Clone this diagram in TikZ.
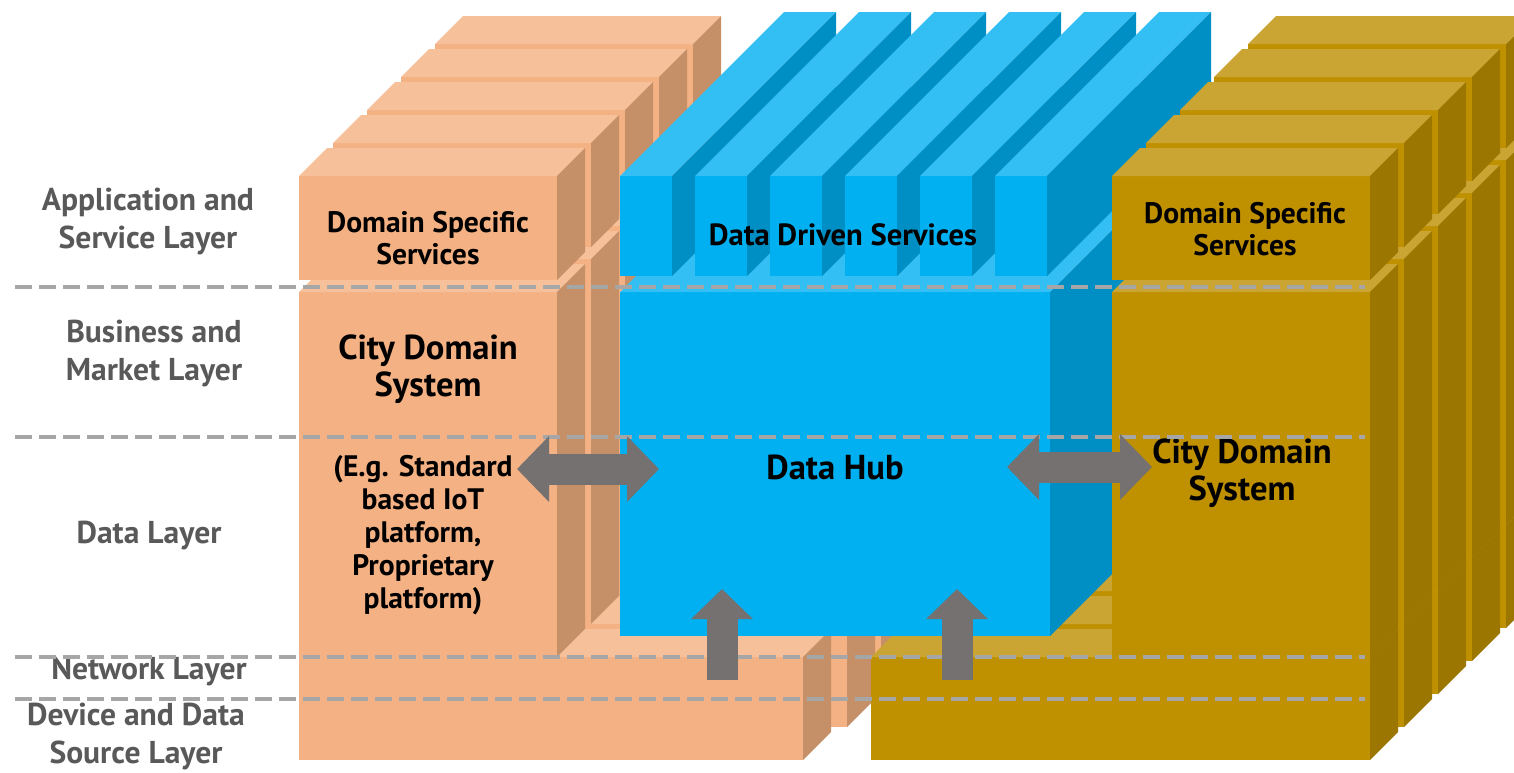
\documentclass[tikz,border=0pt]{standalone}
\usepackage{fontspec}
\setmainfont{PT Sans}
\usetikzlibrary{arrows.meta,calc}
\definecolor{orfront}{RGB}{244,177,131}
\definecolor{ortop}{RGB}{246,193,154}
\definecolor{orside}{RGB}{197,143,103}
\definecolor{blfront}{RGB}{0,176,240}
\definecolor{bltop}{RGB}{51,191,243}
\definecolor{blside}{RGB}{0,143,197}
\definecolor{gdfront}{RGB}{191,144,0}
\definecolor{gdtop}{RGB}{202,165,52}
\definecolor{gdside}{RGB}{155,118,0}
\definecolor{arrowgray}{RGB}{118,113,113}
\definecolor{dashgray}{RGB}{166,166,166}
\definecolor{labelgray}{RGB}{89,89,89}
% front face x0,y0,x1,y1 -- depth -- colour set (or, bl, gd)
\newcommand{\cuboid}[6]{%
  \fill[#6front] (#1,#2) rectangle (#3,#4);
  \fill[#6top] (#1,#2) -- (#3,#2) -- ({#3+#5},{#2-#5}) -- ({#1+#5},{#2-#5}) -- cycle;
  \fill[#6side] (#3,#2) -- ({#3+#5},{#2-#5}) -- ({#3+#5},{#4-#5}) -- (#3,#4) -- cycle;
}
\tikzset{
  boxtext/.style={font=\bfseries\fontsize{14.8}{16}\selectfont, align=center, text=black},
  bigtext/.style={font=\bfseries\fontsize{17.3}{18.5}\selectfont, align=center, text=black},
  layerlabel/.style={font=\bfseries\fontsize{15.8}{19}\selectfont, align=center, text=labelgray},
  layerline/.style={draw=dashgray, line width=2pt, dash pattern=on 8.5pt off 3.5pt},
  linkarrow/.style={draw=arrowgray, line width=15.5pt, {Triangle[length=16pt,width=32pt]}-{Triangle[length=16pt,width=32pt]}},
  feedarrow/.style={draw=arrowgray, line width=15.5pt, -{Triangle[length=15pt,width=30pt]}}
}

\begin{document}
\begin{tikzpicture}[x=0.5pt, y=-0.5pt]
  \useasboundingbox (0,0) rectangle (1514,772);

  % left domain stack
  \cuboid{435}{160}{693}{628}{28}{or}
  \cuboid{435}{44}{693}{148}{28}{or}
  \cuboid{693}{525}{949}{628}{28}{or}
  \cuboid{401}{193}{659}{661}{28}{or}
  \cuboid{401}{77}{659}{181}{28}{or}
  \cuboid{659}{558}{915}{661}{28}{or}
  \cuboid{367}{226}{625}{694}{28}{or}
  \cuboid{367}{110}{625}{214}{28}{or}
  \cuboid{625}{591}{881}{694}{28}{or}
  \cuboid{333}{259}{591}{727}{28}{or}
  \cuboid{333}{143}{591}{247}{28}{or}
  \cuboid{591}{624}{847}{727}{28}{or}
  \cuboid{299}{292}{557}{760}{28}{or}
  \cuboid{299}{176}{557}{280}{28}{or}
  \cuboid{557}{657}{803}{760}{28}{or}

  % right domain stack, bottom row
  \cuboid{1007}{525}{1506}{628}{28}{gd}
  \cuboid{973}{558}{1472}{661}{28}{gd}
  \cuboid{939}{591}{1438}{694}{28}{gd}
  \cuboid{905}{624}{1404}{727}{28}{gd}
  \cuboid{871}{657}{1370}{760}{28}{gd}

  % data hub and service slabs
  \cuboid{620}{292}{1050}{636}{164}{bl}
  \cuboid{620}{176}{672}{276}{164}{bl}
  \cuboid{695}{176}{747}{276}{164}{bl}
  \cuboid{770}{176}{822}{276}{164}{bl}
  \cuboid{845}{176}{897}{276}{164}{bl}
  \cuboid{920}{176}{972}{276}{164}{bl}
  \cuboid{995}{176}{1047}{276}{164}{bl}

  % right domain stack
  \cuboid{1248}{160}{1506}{525}{28}{gd}
  \cuboid{1248}{44}{1506}{148}{28}{gd}
  \cuboid{1214}{193}{1472}{558}{28}{gd}
  \cuboid{1214}{77}{1472}{181}{28}{gd}
  \cuboid{1180}{226}{1438}{591}{28}{gd}
  \cuboid{1180}{110}{1438}{214}{28}{gd}
  \cuboid{1146}{259}{1404}{624}{28}{gd}
  \cuboid{1146}{143}{1404}{247}{28}{gd}
  \cuboid{1112}{292}{1370}{657}{28}{gd}
  \cuboid{1112}{176}{1370}{280}{28}{gd}

  % texts
  \node[boxtext] (dssleft) at (428,238) {Domain Specific\\Services};
  \node[bigtext] (cdsleft) at (428,369) {City Domain\\System};
  \node[boxtext, font=\bfseries\fontsize{14.8}{16.5}\selectfont] (egleft) at (423,535) {(E.g. Standard\\based IoT\\platform,\\Proprietary\\platform)};
  \node[boxtext, font=\bfseries\fontsize{15.3}{16}\selectfont] (ddsvc) at (843,235) {Data Driven Services};
  \node[bigtext] (hub) at (835,467) {Data Hub};
  \node[boxtext] (dssright) at (1245,229) {Domain Specific\\Services};
  \node[bigtext] (cdsright) at (1242,473) {City Domain\\System};

  \node[layerlabel] (lblapp) at (148,221) {Application and\\Service Layer};
  \node[layerlabel] (lblbiz) at (154,353) {Business and\\Market Layer};
  \node[layerlabel] (lbldata) at (149,536) {Data Layer};
  \node[layerlabel] (lblnet) at (149,672) {Network Layer};
  \node[layerlabel] (lbldev) at (136,736) {Device and Data\\Source Layer};

  % layer borders
  \draw[layerline] (15,287) -- (1365,287);
  \draw[layerline] (15,437) -- (1365,437);
  \draw[layerline] (15,657) -- (1365,657);
  \draw[layerline] (15,699) -- (1365,699);

  % arrows
  \coordinate (leftend) at (517,469);
  \coordinate (hubwest) at (659,469);
  \coordinate (hubeast) at (1007,467);
  \coordinate (rightend) at (1152,467);
  \coordinate (srcone) at (722,680);
  \coordinate (tipone) at (722,589);
  \coordinate (srctwo) at (957,680);
  \coordinate (tiptwo) at (957,589);
  \draw[linkarrow] (leftend) -- (hubwest);
  \draw[linkarrow] (hubeast) -- (rightend);
  \draw[feedarrow] (srcone) -- (tipone);
  \draw[feedarrow] (srctwo) -- (tiptwo);
\end{tikzpicture}
\end{document}
